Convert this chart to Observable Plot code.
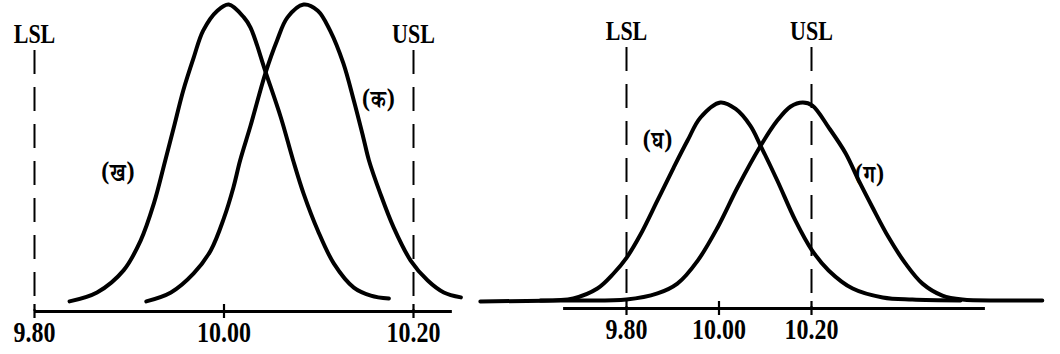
<!DOCTYPE html>
<html>
<head>
<meta charset="utf-8">
<script src="https://cdn.jsdelivr.net/npm/d3@7"></script>
<script src="https://cdn.jsdelivr.net/npm/@observablehq/plot@0.6"></script>
<style>
html, body { margin: 0; padding: 0; background: #fff; }
#chart { position: relative; width: 1060px; height: 354px; overflow: hidden; }
#chart svg { position: absolute; top: 0; background: transparent; overflow: visible; }
</style>
</head>
<body>
<div id="chart"></div>
<script>
// ---------- shared ----------
const tickValues = [9.80, 10.00, 10.20];
const specValues = [9.80, 10.20];
const specLabels = ["LSL", "USL"];

// ---------- left panel ----------
const leftSpecTop = 85;
const leftAxisExtent = [9.80, 10.241];
// curve (ख)
const khaX = [9.837, 9.866, 9.894, 9.912, 9.926, 9.938, 9.947, 9.957, 9.968, 9.978, 9.993, 10.005, 10.021, 10.028, 10.044, 10.060, 10.073, 10.084, 10.099, 10.116, 10.137, 10.155, 10.174];
const khaY = [3.3, 6.2, 13.4, 23.1, 35.2, 49.2, 59.9, 72.0, 82.7, 91.5, 98.0, 100, 95.8, 92.5, 77.9, 63.2, 49.2, 38.4, 26.4, 15.6, 7.8, 5.2, 4.2];
// curve (क)
const kaX = [9.918, 9.944, 9.968, 9.986, 10.000, 10.010, 10.017, 10.028, 10.044, 10.056, 10.067, 10.084, 10.099, 10.112, 10.126, 10.137, 10.147, 10.153, 10.165, 10.179, 10.197, 10.215, 10.232, 10.250];
const kaY = [3.3, 6.2, 12.4, 19.9, 30.5, 40.5, 49.2, 60.5, 77.9, 88.3, 95.8, 100, 98.0, 91.5, 80.8, 68.7, 56.7, 49.2, 38.4, 27.4, 16.6, 10.1, 6.2, 4.6];
const leftLabels = ["(ख)", "(क)"];
const leftLabelX = [9.888, 10.163];
const leftLabelY = [45, 69];

// ---------- right panel ----------
const rightSpecTop = 85;
const rightAxisExtent = [9.664, 10.576];
// curve (घ)
const ghaX = [9.614, 9.685, 9.737, 9.772, 9.800, 9.830, 9.867, 9.902, 9.932, 9.960, 10.003, 10.036, 10.068, 10.090, 10.126, 10.165, 10.200, 10.237, 10.289, 10.354, 10.418, 10.522];
const ghaY = [2.6, 3.3, 6.5, 11.4, 16.5, 24.0, 35.2, 45.9, 54.7, 62.2, 67.1, 65.0, 59.5, 53.0, 41.7, 28.7, 19.2, 12.4, 6.5, 3.6, 2.9, 2.6];
// curve (ग)
const gaX = [9.484, 9.657, 9.800, 9.867, 9.910, 9.954, 9.997, 10.040, 10.090, 10.126, 10.155, 10.181, 10.202, 10.237, 10.274, 10.302, 10.332, 10.367, 10.403, 10.440, 10.483, 10.526, 10.609, 10.699];
const gaY = [2.3, 2.6, 2.9, 4.9, 8.1, 15.6, 26.4, 39.4, 53.0, 61.2, 65.8, 67.1, 66.1, 59.0, 50.5, 41.7, 32.9, 23.1, 14.7, 8.1, 4.2, 2.9, 2.6, 2.6];
const rightLabels = ["(घ)", "(ग)"];
const rightLabelX = [9.867, 10.325];
const rightLabelY = [54.7, 43.6];

const toPoints = (xs, ys) => xs.map((x, i) => ({x, y: ys[i]}));
const serif = "'Liberation Serif', 'Times New Roman', 'DejaVu Serif', serif";
const deva = "'Noto Serif Devanagari', 'Noto Sans Devanagari', 'Lohit Devanagari', 'FreeSerif', 'Noto Sans', sans-serif";

function panel({width, marginLeft, marginRight, marginTop, marginBottom, specTop, axisExtent, curves, labels, labelX, labelY}) {
  const svg = Plot.plot({
    width, height: 354,
    marginLeft, marginRight, marginTop, marginBottom,
    x: {domain: [9.80, 10.20]},
    y: {domain: [0, 100], axis: null},
    style: {background: "transparent", fontFamily: serif, fontWeight: "bold", color: "#000", overflow: "visible"},
    marks: [
      Plot.ruleX(specValues, {x: d => d, y1: specTop, y2: 0, stroke: "#000", strokeWidth: 2, strokeDasharray: "24,13"}),
      Plot.ruleY([0], {x1: axisExtent[0], x2: axisExtent[1], stroke: "#000", strokeWidth: 2.8}),
      Plot.axisX(tickValues, {tickSize: 14, dy: -7, tickPadding: 2, tickFormat: d => d.toFixed(2), fontSize: 24, fontWeight: "bold", strokeWidth: 2.2, label: null}),
      ...curves.map(c => Plot.line(c, {x: "x", y: "y", curve: "catmull-rom", stroke: "#000", strokeWidth: 4, strokeLinecap: "round"})),
      Plot.text(specLabels, {x: specValues, y: specTop, text: d => d, lineAnchor: "bottom", dy: -8, fontSize: 22, fontWeight: "bold", fontFamily: serif, fill: "#000"}),
      Plot.text(labels, {x: labelX, y: labelY, text: d => d, fontSize: 20, fontWeight: "bold", fontFamily: deva, fill: "#000"})
    ]
  });
  // scanned glyphs are taller than wide: stretch text vertically
  svg.querySelectorAll("text").forEach(t => {
    const tr = t.getAttribute("transform");
    if (tr) t.setAttribute("transform", tr + " scale(1,1.25)");
  });
  return svg;
}

const left = panel({
  width: 470, marginLeft: 34, marginRight: 57, marginTop: 4, marginBottom: 43,
  specTop: leftSpecTop, axisExtent: leftAxisExtent,
  curves: [toPoints(khaX, khaY), toPoints(kaX, kaY)],
  labels: leftLabels, labelX: leftLabelX, labelY: leftLabelY
});
left.style.left = "0px";

const right = panel({
  width: 590, marginLeft: 156, marginRight: 249, marginTop: 1, marginBottom: 46,
  specTop: rightSpecTop, axisExtent: rightAxisExtent,
  curves: [toPoints(ghaX, ghaY), toPoints(gaX, gaY)],
  labels: rightLabels, labelX: rightLabelX, labelY: rightLabelY
});
right.style.left = "470px";

const chart = document.getElementById("chart");
chart.appendChild(left);
chart.appendChild(right);
</script>
</body>
</html>
